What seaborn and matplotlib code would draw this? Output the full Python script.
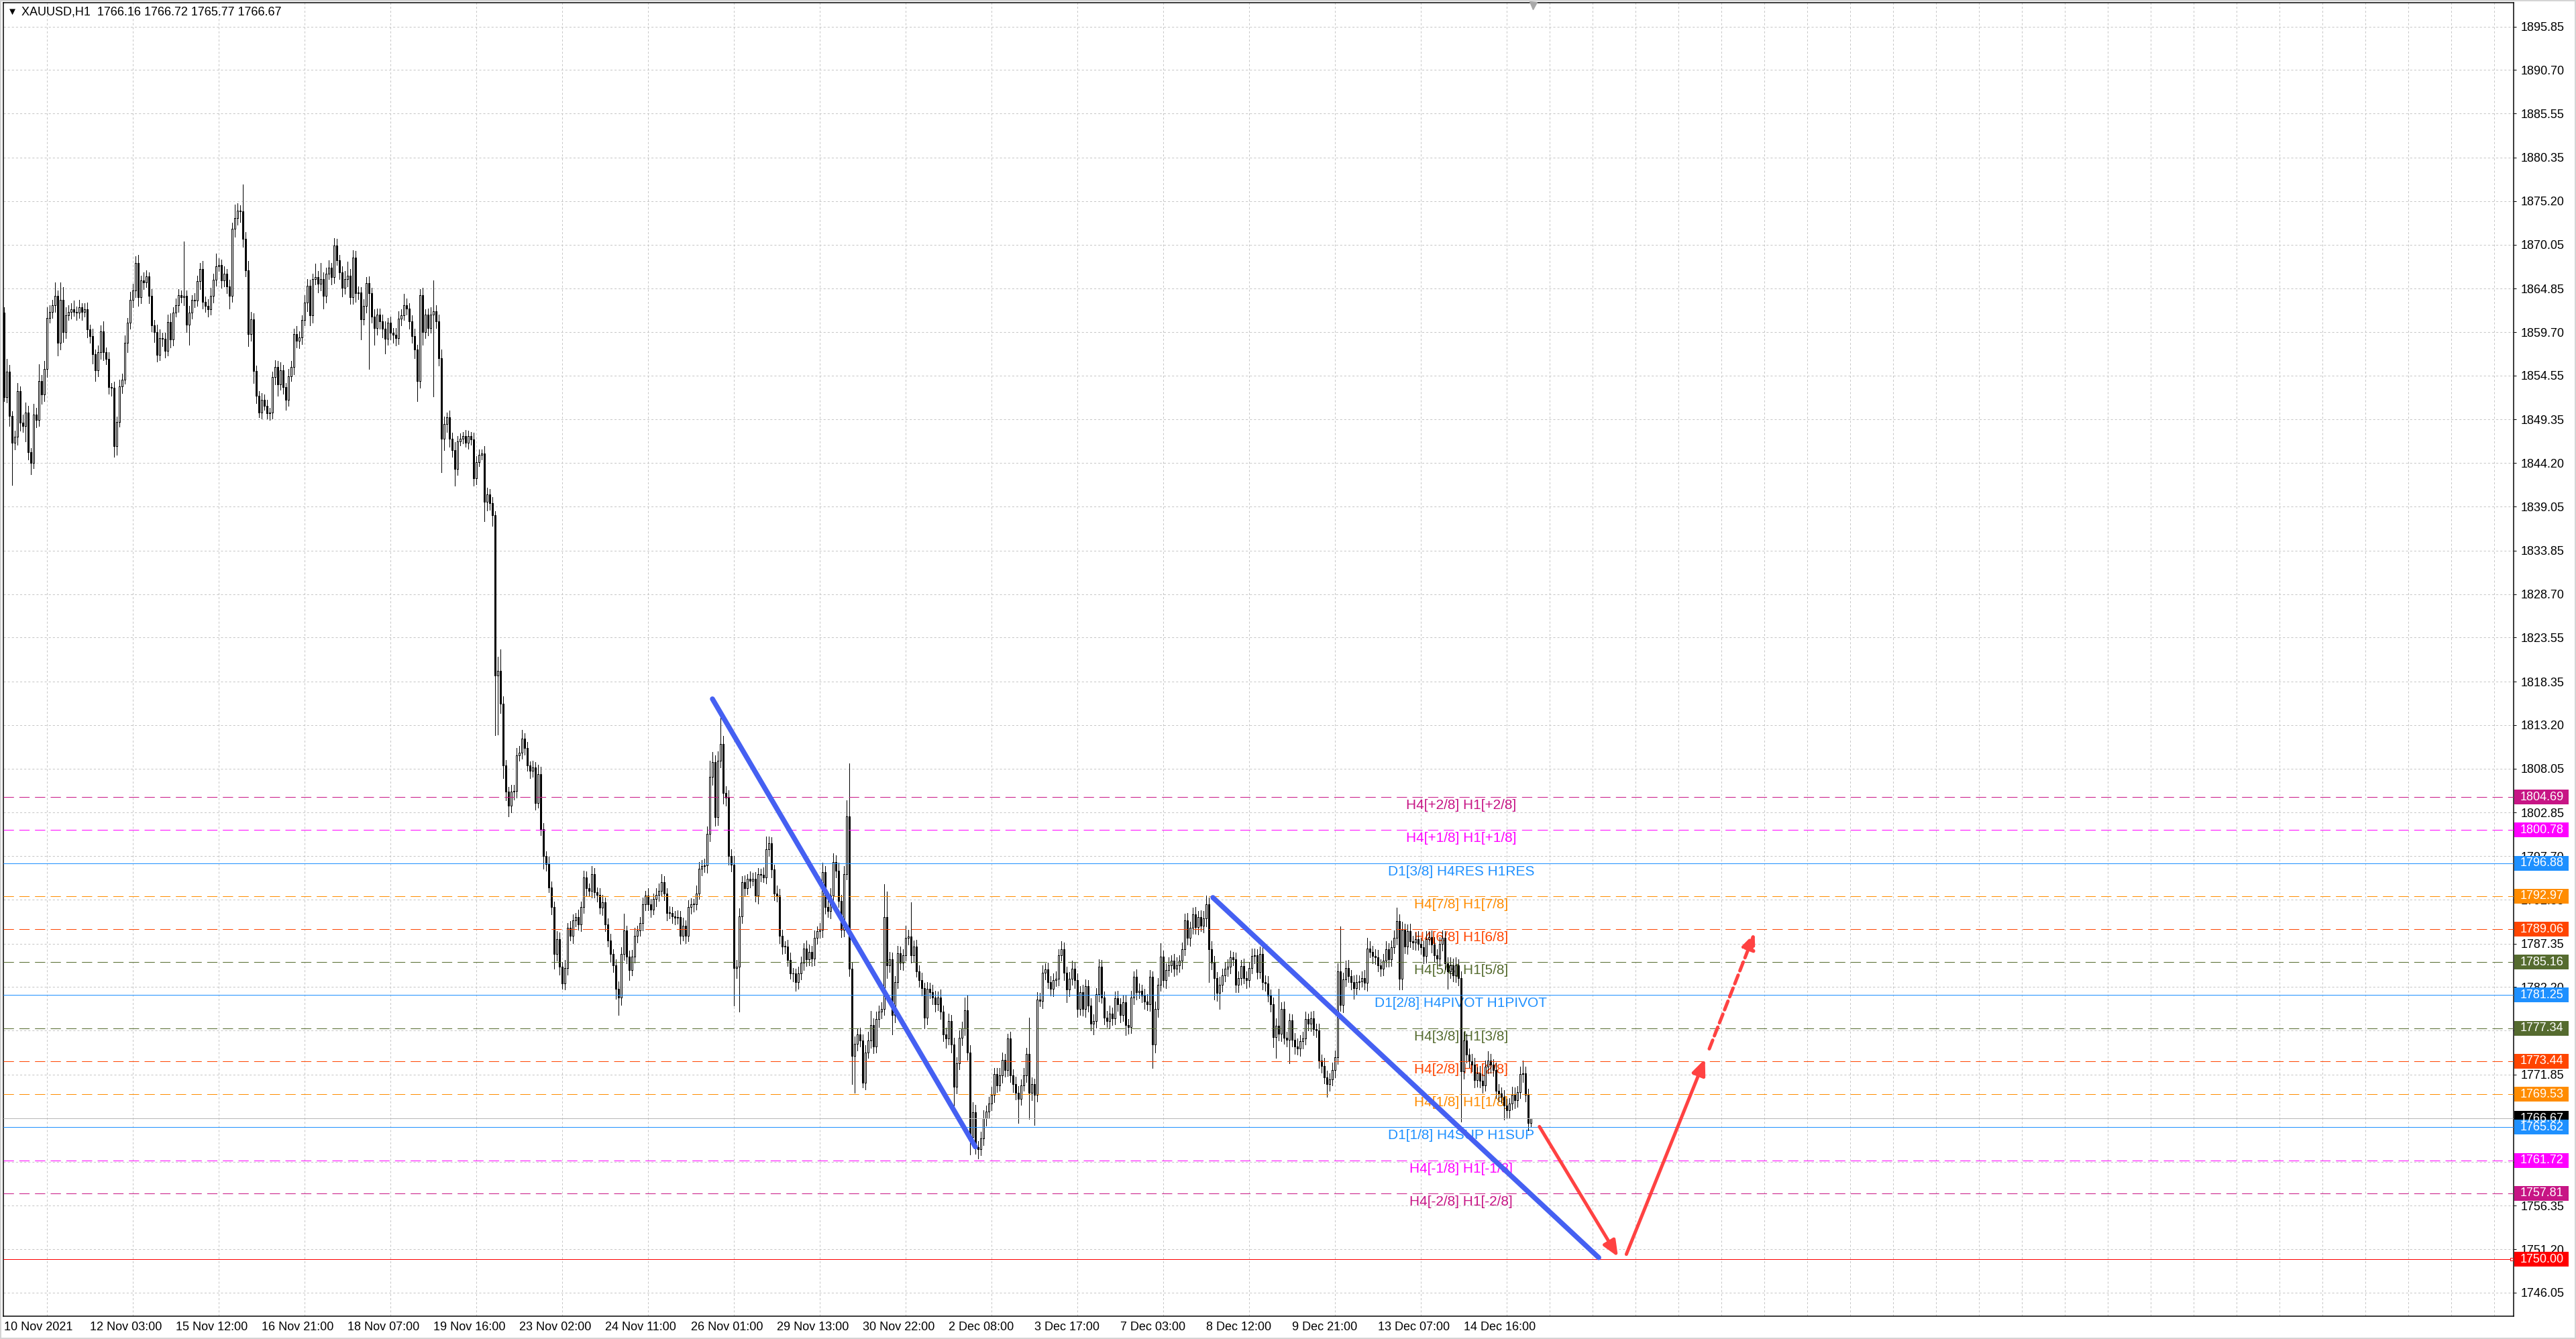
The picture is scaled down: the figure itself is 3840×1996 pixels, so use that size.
import numpy as np
import pandas as pd
import matplotlib
matplotlib.use("Agg")
import matplotlib.pyplot as plt
import matplotlib.transforms as mtransforms
from matplotlib.patches import Rectangle
import seaborn as sns

# ---------------- data ----------------
symbol_line = "XAUUSD,H1  1766.16 1766.72 1765.77 1766.67"
first_open = 1862.0

# hourly closes, one per bar (rows of 10)
closes = [
    1852.0, 1855.0, 1849.8, 1846.6, 1847.3, 1852.7, 1849.0, 1848.6, 1850.2, 1845.5,
    1844.2, 1849.9, 1849.3, 1853.9, 1852.3, 1855.3, 1861.4, 1862.1, 1862.9, 1864.0,
    1858.4, 1863.5, 1859.7, 1861.7, 1862.1, 1862.4, 1862.1, 1862.0, 1862.6, 1862.1,
    1862.4, 1860.0, 1859.2, 1857.1, 1855.2, 1857.3, 1859.8, 1857.3, 1856.5, 1853.2,
    1853.1, 1846.2, 1849.1, 1853.3, 1854.1, 1858.4, 1860.8, 1863.5, 1864.6, 1867.9,
    1863.8, 1865.8, 1865.6, 1866.3, 1864.0, 1860.5, 1859.7, 1857.0, 1859.0, 1858.9,
    1857.5, 1860.9, 1858.8, 1862.0, 1862.9, 1864.1, 1863.8, 1864.0, 1860.6, 1862.0,
    1863.5, 1863.4, 1865.7, 1867.2, 1863.3, 1862.8, 1862.4, 1864.0, 1865.9, 1867.5,
    1867.6, 1865.8, 1866.6, 1865.1, 1864.0, 1871.9, 1873.2, 1874.1, 1874.0, 1870.7,
    1867.0, 1859.5, 1861.2, 1855.1, 1852.2, 1850.2, 1851.7, 1851.0, 1850.1, 1850.2,
    1854.4, 1855.6, 1853.5, 1855.2, 1853.2, 1851.7, 1854.5, 1855.6, 1859.5, 1858.7,
    1859.1, 1861.1, 1863.2, 1865.2, 1861.7, 1866.0, 1866.2, 1865.4, 1866.0, 1864.0,
    1866.6, 1867.3, 1866.2, 1869.9, 1868.2, 1866.8, 1864.9, 1866.0, 1866.4, 1863.8,
    1868.5, 1864.3, 1864.4, 1861.2, 1862.8, 1865.5, 1864.3, 1861.5, 1860.2, 1861.8,
    1861.0, 1860.1, 1858.9, 1860.8, 1859.6, 1859.4, 1859.0, 1861.3, 1861.7, 1862.9,
    1862.5, 1861.0, 1859.2, 1857.6, 1853.9, 1864.1, 1859.7, 1861.8, 1860.2, 1861.8,
    1862.2, 1861.0, 1856.6, 1847.1, 1848.8, 1849.6, 1847.1, 1845.7, 1843.5, 1846.8,
    1847.1, 1847.4, 1846.6, 1847.4, 1847.0, 1842.4, 1844.3, 1845.2, 1845.3, 1839.6,
    1840.5, 1839.5, 1838.0, 1819.1, 1819.6, 1815.7, 1808.4, 1805.3, 1803.7, 1805.3,
    1805.4, 1809.6, 1809.9, 1811.6, 1810.5, 1808.4, 1807.8, 1808.2, 1804.0, 1807.4,
    1800.9, 1797.7, 1796.8, 1794.0, 1791.7, 1786.1, 1787.9, 1784.6, 1782.6, 1784.5,
    1789.2, 1788.3, 1790.1, 1790.5, 1789.6, 1791.7, 1795.2, 1793.9, 1793.6, 1795.6,
    1793.4, 1793.1, 1791.6, 1792.2, 1789.6, 1787.7, 1786.1, 1784.8, 1782.0, 1781.0,
    1786.1, 1788.9, 1785.8, 1784.2, 1785.8, 1788.3, 1788.9, 1789.8, 1792.0, 1793.0,
    1792.0, 1791.4, 1792.6, 1793.1, 1793.6, 1794.6, 1793.3, 1791.0, 1791.0, 1790.6,
    1790.4, 1790.5, 1788.3, 1789.5, 1788.3, 1791.7, 1792.0, 1792.0, 1793.3, 1796.2,
    1796.5, 1796.6, 1800.3, 1807.1, 1808.8, 1802.3, 1809.0, 1811.0, 1805.2, 1804.6,
    1797.7, 1796.7, 1784.5, 1784.6, 1790.6, 1794.6, 1793.9, 1795.0, 1794.8, 1795.0,
    1793.0, 1795.6, 1795.5, 1795.2, 1798.5, 1799.2, 1796.1, 1793.3, 1793.0, 1788.3,
    1787.0, 1787.0, 1785.4, 1783.8, 1783.8, 1782.8, 1783.8, 1785.1, 1786.8, 1785.5,
    1786.4, 1785.6, 1788.0, 1788.8, 1789.0, 1795.8, 1791.7, 1791.2, 1793.0, 1797.0,
    1796.0, 1792.4, 1789.0, 1795.6, 1802.4, 1784.4, 1774.1, 1775.5, 1776.6, 1775.9,
    1770.9, 1774.5, 1775.9, 1777.7, 1775.2, 1778.4, 1779.3, 1779.6, 1790.5, 1784.8,
    1785.5, 1778.9, 1782.8, 1786.2, 1785.1, 1786.0, 1788.0, 1788.2, 1786.0, 1787.0,
    1784.1, 1783.0, 1782.1, 1778.6, 1782.0, 1781.6, 1781.0, 1780.2, 1781.0, 1779.3,
    1776.6, 1776.1, 1778.2, 1775.4, 1770.4, 1773.2, 1776.2, 1777.3, 1779.5, 1774.5,
    1764.5, 1767.4, 1763.3, 1763.0, 1764.3, 1766.7, 1767.5, 1768.4, 1769.5, 1771.9,
    1770.6, 1771.8, 1773.6, 1772.4, 1776.1, 1771.8, 1770.7, 1769.7, 1769.0, 1770.6,
    1771.8, 1774.3, 1769.7, 1770.7, 1769.5, 1780.7, 1780.6, 1783.9, 1784.3, 1782.8,
    1782.0, 1783.0, 1783.2, 1786.0, 1786.7, 1783.9, 1781.9, 1783.2, 1784.4, 1783.0,
    1779.6, 1781.6, 1779.6, 1782.3, 1780.0, 1777.9, 1778.2, 1781.4, 1784.6, 1781.0,
    1778.6, 1778.2, 1779.1, 1778.5, 1780.9, 1780.2, 1778.9, 1780.4, 1777.7, 1777.5,
    1781.0, 1783.4, 1781.6, 1781.8, 1781.2, 1780.5, 1780.2, 1783.4, 1775.4, 1779.6,
    1782.5, 1785.8, 1783.0, 1784.2, 1784.8, 1785.3, 1784.4, 1784.8, 1785.3, 1786.7,
    1790.1, 1788.0, 1789.2, 1790.8, 1789.3, 1790.5, 1789.5, 1790.3, 1792.0, 1786.7,
    1785.1, 1783.3, 1781.5, 1782.5, 1783.6, 1784.4, 1784.6, 1785.7, 1785.5, 1782.5,
    1783.3, 1784.7, 1783.3, 1783.0, 1784.5, 1785.9, 1786.0, 1784.0, 1786.1, 1782.8,
    1782.6, 1781.2, 1780.2, 1776.3, 1777.6, 1776.7, 1779.6, 1776.2, 1776.0, 1778.3,
    1776.0, 1775.2, 1774.9, 1775.8, 1776.1, 1778.4, 1777.9, 1778.5, 1777.2, 1777.1,
    1773.5, 1772.9, 1771.5, 1770.7, 1771.3, 1772.4, 1773.9, 1784.1, 1780.1, 1783.1,
    1784.5, 1783.5, 1782.8, 1782.1, 1782.8, 1782.9, 1783.3, 1782.7, 1786.8, 1786.4,
    1785.9, 1785.7, 1784.8, 1784.4, 1785.3, 1786.7, 1785.5, 1786.9, 1788.0, 1790.0,
    1783.2, 1789.0, 1787.0, 1788.8, 1787.6, 1787.5, 1787.9, 1787.3, 1786.9, 1785.9,
    1787.9, 1788.1, 1787.2, 1786.0, 1785.6, 1787.3, 1788.0, 1785.0, 1784.1, 1784.8,
    1783.6, 1784.8, 1783.3, 1772.2, 1775.9, 1774.2, 1773.4, 1773.0, 1771.2, 1772.0,
    1771.1, 1770.6, 1772.8, 1773.5, 1773.0, 1772.4, 1769.9, 1769.6, 1769.2, 1768.2,
    1767.6, 1768.4, 1769.5, 1768.8, 1769.8, 1771.9, 1772.0, 1769.5, 1766.16, 1766.67,
]

# upper wick above the body, per bar
wick_up = [
    0.6, 1.5, 0.8, 0.5, 0.7, 1.0, 0.6, 0.9, 1.2, 0.8,
    0.5, 1.3, 0.8, 2.0, 0.7, 1.0, 1.2, 0.8, 0.6, 1.6,
    0.6, 2.1, 1.5, 0.9, 0.8, 0.7, 1.0, 0.6, 0.9, 0.5,
    0.7, 0.8, 0.6, 0.9, 0.5, 0.8, 0.7, 1.2, 0.6, 0.8,
    0.5, 0.7, 0.6, 0.8, 0.7, 0.9, 0.6, 1.0, 0.8, 0.8,
    0.9, 0.6, 1.0, 0.7, 0.5, 0.8, 0.6, 0.9, 1.0, 0.6,
    0.7, 0.9, 1.0, 0.6, 0.8, 0.7, 0.5, 6.4, 0.6, 0.8,
    0.6, 0.8, 0.7, 0.7, 0.9, 0.6, 0.8, 0.9, 0.7, 1.5,
    0.8, 0.7, 0.9, 0.6, 0.8, 0.7, 1.6, 0.8, 0.6, 3.2,
    0.8, 1.1, 0.9, 0.7, 0.6, 0.5, 0.8, 0.6, 0.7, 0.5,
    0.6, 0.8, 0.7, 0.9, 0.6, 0.5, 0.8, 0.7, 0.6, 0.9,
    0.7, 0.6, 0.9, 0.8, 0.7, 0.6, 1.6, 0.7, 1.9, 0.8,
    0.7, 0.9, 0.6, 0.9, 0.8, 0.6, 0.7, 0.9, 1.6, 0.8,
    0.9, 0.8, 0.7, 0.6, 0.8, 0.7, 0.8, 0.6, 0.9, 0.7,
    0.7, 0.8, 0.9, 0.6, 0.7, 0.6, 0.8, 0.9, 0.7, 1.3,
    0.8, 0.6, 0.7, 0.9, 0.6, 0.7, 0.8, 0.6, 0.7, 0.8,
    3.6, 0.7, 0.8, 1.0, 0.9, 0.6, 0.8, 0.7, 1.0, 0.6,
    0.6, 0.5, 0.7, 0.6, 0.5, 0.8, 0.7, 0.6, 0.5, 0.9,
    0.8, 0.6, 0.7, 0.5, 1.7, 2.6, 0.9, 0.7, 0.6, 0.8,
    0.7, 0.9, 0.8, 1.0, 0.6, 0.7, 0.5, 0.8, 0.6, 1.1,
    0.9, 0.7, 0.6, 0.8, 0.7, 0.6, 0.9, 0.8, 0.6, 0.9,
    0.6, 0.8, 0.7, 0.5, 0.9, 0.6, 0.8, 0.7, 0.6, 0.9,
    0.7, 0.6, 0.8, 0.9, 0.6, 0.7, 0.8, 0.6, 0.7, 0.9,
    0.8, 2.0, 0.6, 0.7, 0.8, 0.9, 0.6, 0.7, 0.8, 0.6,
    0.9, 0.6, 0.7, 0.8, 0.9, 1.0, 0.7, 0.6, 0.8, 0.7,
    0.6, 0.8, 0.7, 0.9, 0.6, 0.8, 0.7, 0.6, 0.9, 0.8,
    0.7, 0.8, 0.9, 1.9, 1.2, 0.8, 1.1, 3.7, 0.9, 0.8,
    0.9, 0.8, 1.0, 0.8, 0.9, 0.7, 0.8, 0.6, 0.9, 0.7,
    0.8, 0.7, 0.6, 0.9, 1.5, 0.8, 0.7, 0.6, 0.9, 0.8,
    0.7, 0.6, 0.8, 0.9, 0.7, 0.6, 0.8, 0.7, 0.6, 0.9,
    0.8, 0.7, 0.9, 0.6, 0.8, 1.1, 0.7, 0.8, 0.9, 1.0,
    0.8, 0.9, 0.7, 0.9, 1.9, 6.3, 0.8, 0.9, 0.7, 0.8,
    0.7, 0.8, 1.0, 1.7, 0.8, 0.9, 0.7, 0.8, 3.9, 3.0,
    0.9, 0.8, 0.7, 0.9, 0.8, 0.7, 1.5, 0.8, 4.0, 0.7,
    0.8, 0.7, 0.9, 0.6, 0.8, 0.7, 0.9, 0.8, 0.7, 0.9,
    0.7, 0.8, 0.9, 0.7, 0.8, 0.7, 0.9, 0.8, 1.5, 1.7,
    0.8, 1.2, 0.9, 0.7, 0.8, 0.9, 0.7, 0.8, 0.9, 0.7,
    0.7, 0.8, 0.9, 0.7, 0.6, 0.8, 0.7, 0.9, 0.8, 0.7,
    0.8, 0.7, 4.3, 0.8, 0.7, 0.9, 0.8, 0.9, 0.7, 0.8,
    0.7, 0.8, 0.9, 0.7, 0.9, 0.8, 0.7, 0.8, 0.9, 0.7,
    0.8, 0.7, 0.9, 0.8, 0.7, 0.9, 0.8, 0.7, 0.9, 0.8,
    0.7, 0.8, 0.9, 0.7, 0.8, 0.9, 0.7, 0.8, 0.9, 0.7,
    0.8, 0.7, 0.9, 0.8, 0.7, 0.8, 0.9, 0.8, 0.7, 0.9,
    0.8, 1.6, 0.7, 0.8, 0.9, 0.7, 0.8, 0.9, 0.7, 0.8,
    0.8, 0.9, 0.7, 0.8, 0.9, 0.7, 0.8, 0.9, 1.0, 0.8,
    0.9, 0.8, 0.7, 0.9, 0.8, 0.7, 0.9, 0.8, 0.7, 0.8,
    0.8, 0.7, 0.9, 0.8, 0.7, 0.9, 0.8, 0.7, 0.9, 0.8,
    0.8, 0.9, 0.7, 0.8, 0.9, 4.4, 0.8, 0.9, 0.7, 0.8,
    0.7, 0.8, 0.9, 0.7, 0.8, 0.9, 0.7, 0.8, 0.9, 0.7,
    0.8, 0.7, 0.9, 0.8, 0.7, 0.9, 0.8, 0.9, 5.3, 0.8,
    0.8, 0.9, 0.7, 0.8, 0.9, 0.7, 0.8, 0.9, 1.2, 0.8,
    0.7, 0.8, 0.9, 0.7, 0.8, 0.9, 0.7, 0.8, 0.9, 1.6,
    0.8, 0.9, 0.7, 0.8, 0.9, 0.7, 0.8, 0.9, 0.7, 0.8,
    0.9, 0.7, 0.8, 0.9, 0.7, 0.8, 0.9, 0.8, 0.7, 0.9,
    0.8, 0.9, 0.7, 0.8, 1.0, 0.8, 0.7, 0.9, 0.8, 0.7,
    0.9, 0.8, 0.7, 1.1, 0.8, 0.7, 0.9, 0.8, 0.7, 0.8,
    0.8, 0.7, 0.9, 0.8, 0.7, 0.9, 1.5, 0.8, 0.7, 0.05,
]

# lower wick below the body, per bar
wick_dn = [
    0.5, 0.6, 1.2, 5.0, 0.8, 0.9, 1.0, 0.7, 1.8, 0.9,
    1.3, 0.6, 0.9, 0.7, 1.1, 0.8, 0.9, 0.6, 0.7, 0.8,
    1.5, 0.8, 1.2, 0.7, 0.6, 0.8, 0.5, 0.9, 0.6, 1.0,
    0.6, 0.9, 0.8, 1.1, 1.3, 0.7, 0.8, 0.9, 0.6, 0.8,
    0.9, 1.3, 1.0, 0.6, 0.8, 0.5, 1.1, 0.7, 0.9, 0.8,
    1.0, 0.7, 0.8, 0.6, 0.9, 0.7, 1.2, 0.8, 0.6, 0.9,
    0.8, 0.6, 0.9, 0.7, 0.5, 0.8, 0.6, 0.9, 0.9, 2.4,
    0.7, 0.8, 0.6, 0.9, 0.8, 0.7, 0.9, 0.6, 0.8, 0.7,
    0.6, 0.9, 0.7, 0.8, 1.5, 0.7, 0.9, 0.8, 1.3, 0.9,
    0.7, 1.5, 0.8, 1.4, 0.9, 0.6, 0.7, 0.5, 0.6, 0.8,
    0.7, 0.9, 1.3, 0.6, 0.8, 1.2, 0.7, 0.6, 0.9, 0.8,
    0.9, 0.8, 0.6, 1.0, 1.2, 0.9, 0.7, 1.0, 0.8, 1.5,
    0.8, 0.6, 0.9, 0.7, 0.6, 0.8, 1.0, 0.7, 0.9, 0.8,
    0.8, 1.0, 0.7, 2.4, 0.6, 0.8, 9.0, 0.7, 2.0, 0.8,
    0.9, 1.0, 1.7, 0.7, 0.8, 1.0, 0.9, 0.7, 0.8, 0.6,
    0.7, 0.9, 0.8, 1.0, 2.4, 0.8, 1.5, 0.7, 0.9, 0.6,
    9.7, 0.8, 0.9, 4.0, 1.4, 0.9, 1.0, 0.8, 2.0, 0.7,
    0.5, 0.6, 0.5, 0.7, 0.6, 0.9, 0.7, 0.5, 0.6, 2.3,
    1.0, 0.8, 1.2, 7.1, 7.0, 1.1, 1.5, 1.0, 1.3, 0.8,
    0.9, 0.8, 0.6, 0.7, 0.8, 0.6, 0.9, 0.7, 0.8, 0.6,
    0.7, 1.5, 0.8, 0.6, 0.9, 1.7, 0.8, 0.9, 0.6, 0.7,
    0.8, 0.6, 0.9, 0.7, 0.6, 0.8, 0.7, 0.9, 0.6, 0.8,
    0.6, 0.8, 0.7, 0.9, 0.8, 0.7, 0.9, 0.8, 1.2, 2.1,
    0.9, 0.7, 0.8, 1.2, 0.6, 0.7, 0.8, 0.6, 0.9, 0.7,
    0.7, 0.9, 0.6, 0.8, 0.7, 0.6, 0.8, 0.9, 0.7, 0.8,
    0.8, 0.7, 1.0, 0.6, 0.9, 0.7, 0.8, 0.9, 0.6, 0.7,
    0.8, 0.7, 0.9, 0.8, 1.0, 1.0, 0.9, 0.8, 1.3, 0.9,
    1.0, 0.8, 4.5, 1.2, 5.3, 0.8, 0.9, 0.7, 0.8, 0.6,
    0.7, 0.9, 0.8, 0.6, 0.7, 0.8, 0.9, 0.8, 0.7, 0.9,
    0.9, 0.8, 0.7, 0.6, 0.9, 1.0, 0.8, 0.7, 0.9, 0.8,
    0.7, 0.9, 0.8, 0.7, 0.8, 0.9, 0.8, 0.7, 0.9, 0.6,
    0.8, 0.7, 0.9, 0.8, 0.7, 0.9, 3.4, 4.4, 0.8, 0.7,
    0.6, 0.8, 0.7, 0.9, 0.8, 0.7, 0.9, 0.8, 0.7, 1.5,
    0.8, 2.3, 0.9, 0.7, 0.8, 0.9, 0.7, 0.8, 0.9, 0.8,
    0.7, 0.8, 0.9, 1.3, 0.8, 0.7, 0.8, 0.9, 0.7, 0.9,
    0.8, 1.1, 0.7, 0.9, 2.3, 0.8, 0.7, 0.9, 0.8, 0.9,
    2.1, 0.9, 0.8, 1.1, 0.7, 0.8, 0.9, 0.7, 0.8, 0.9,
    0.8, 0.7, 0.9, 0.8, 0.7, 0.8, 0.9, 0.8, 2.9, 0.7,
    0.7, 0.8, 3.1, 0.9, 3.6, 0.8, 0.7, 0.9, 0.8, 0.7,
    0.8, 0.9, 0.7, 0.8, 0.7, 0.9, 1.5, 0.8, 0.7, 0.9,
    0.9, 0.7, 0.8, 0.9, 0.7, 0.8, 1.3, 0.8, 0.9, 0.7,
    0.8, 0.7, 0.9, 0.8, 0.7, 0.8, 0.9, 0.7, 1.2, 0.8,
    0.7, 0.8, 0.9, 0.7, 0.8, 0.9, 0.7, 0.8, 2.8, 0.9,
    0.9, 0.7, 0.8, 0.9, 0.7, 0.8, 0.9, 0.7, 0.8, 0.9,
    0.7, 0.8, 0.9, 0.7, 0.8, 0.9, 0.7, 0.8, 0.9, 3.9,
    0.8, 2.6, 0.9, 1.9, 0.8, 0.7, 0.9, 0.8, 0.7, 0.9,
    0.9, 0.8, 0.7, 0.9, 0.8, 0.7, 0.9, 0.8, 0.7, 0.9,
    0.8, 0.7, 0.9, 1.2, 2.5, 0.8, 0.9, 0.7, 0.8, 2.8,
    0.8, 0.9, 0.7, 0.8, 0.9, 0.7, 0.8, 0.9, 0.7, 0.8,
    0.9, 0.8, 0.7, 1.5, 0.8, 0.7, 0.9, 0.8, 0.7, 0.9,
    0.8, 0.7, 0.9, 1.3, 0.8, 0.9, 0.7, 0.8, 0.9, 0.7,
    0.9, 0.8, 0.7, 0.9, 0.8, 0.7, 0.9, 0.8, 0.7, 0.8,
    1.3, 1.3, 0.8, 0.9, 0.7, 0.8, 0.9, 0.7, 0.8, 0.9,
    0.8, 0.7, 0.9, 0.8, 0.7, 0.9, 0.8, 0.7, 2.1, 0.8,
    0.7, 0.8, 0.9, 5.9, 0.8, 0.9, 0.7, 0.8, 0.9, 0.8,
    0.8, 0.9, 0.7, 0.8, 0.9, 0.7, 0.8, 0.9, 0.7, 1.7,
    0.9, 0.8, 0.7, 0.9, 0.8, 0.7, 0.9, 0.8, 0.9, 0.39,
]

date_labels = [
    "10 Nov 2021", "12 Nov 03:00", "15 Nov 12:00", "16 Nov 21:00", "18 Nov 07:00",
    "19 Nov 16:00", "23 Nov 02:00", "24 Nov 11:00", "26 Nov 01:00", "29 Nov 13:00",
    "30 Nov 22:00", "2 Dec 08:00", "3 Dec 17:00", "7 Dec 03:00", "8 Dec 12:00",
    "9 Dec 21:00", "13 Dec 07:00", "14 Dec 16:00",
]
bars_per_label = 32

price_ticks = [
    1895.85, 1890.70, 1885.55, 1880.35, 1875.20, 1870.05, 1864.85, 1859.70, 1854.55, 1849.35,
    1844.20, 1839.05, 1833.85, 1828.70, 1823.55, 1818.35, 1813.20, 1808.05, 1802.85, 1797.70,
    1792.55, 1787.35, 1782.20, 1777.05, 1771.85, 1766.70, 1761.55, 1756.35, 1751.20, 1746.05,
]

levels = [1804.69, 1800.78, 1796.88, 1792.97, 1789.06, 1785.16, 1781.25,
          1777.34, 1773.44, 1769.53, 1765.62, 1761.72, 1757.81]
level_text = [
    "H4[+2/8] H1[+2/8]", "H4[+1/8] H1[+1/8]", "D1[3/8] H4RES H1RES",
    "H4[7/8] H1[7/8]", "H4[6/8] H1[6/8]", "H4[5/8] H1[5/8]",
    "D1[2/8] H4PIVOT H1PIVOT", "H4[3/8] H1[3/8]", "H4[2/8] H1[2/8]",
    "H4[1/8] H1[1/8]", "D1[1/8] H4SUP H1SUP", "H4[-1/8] H1[-1/8]",
    "H4[-2/8] H1[-2/8]",
]
level_colors = ["#c71585", "#ff00ff", "#1e90ff", "#ff8c00", "#ff4500", "#556b2f", "#1e90ff",
                "#556b2f", "#ff4500", "#ff8c00", "#1e90ff", "#ff00ff", "#c71585"]
current_price = 1766.67
target_price = 1750.00

# drawn objects: (bar, price) end points
trend1_x, trend1_y = [264, 362], [1816.3, 1763.3]
trend2_x, trend2_y = [450.5, 594.3], [1792.8, 1750.2]
arrow1_x, arrow1_y = [572.2, 601.5], [1765.7, 1750.3]
arrow2_x, arrow2_y = [604.6, 633.9], [1750.6, 1773.7]
arrow3_x, arrow3_y = [635.5, 652.4], [1774.9, 1788.6]

# ---------------- layout ----------------
W, H, DPI = 3840, 1996, 100
PX = 72 / DPI  # one pixel in points
BLUE = "#4560f2"
RED = "#ff4242"

sns.set_theme(style="white")
plt.rcParams["font.family"] = ["Liberation Sans", "DejaVu Sans"]
plt.rcParams["lines.scale_dashes"] = False
plt.rcParams["axes.unicode_minus"] = False

fig = plt.figure(figsize=(W / DPI, H / DPI), dpi=DPI, facecolor="white")
ax = fig.add_axes([5 / W, 34 / H, 3742 / W, 1958 / H])
ax.set_facecolor("white")

n = min(len(closes), len(wick_up), len(wick_dn))
df = pd.DataFrame({"close": closes[:n], "up": wick_up[:n], "dn": wick_dn[:n]})
df["open"] = df["close"].shift(1).fillna(first_open)
df["top"] = df[["open", "close"]].max(axis=1)
df["bot"] = df[["open", "close"]].min(axis=1)
df["high"] = df["top"] + df["up"]
df["low"] = df["bot"] - df["dn"]
df["bull"] = df["close"] >= df["open"]
xb = np.arange(n)

ax.set_xlim(-0.25, 935.25)
ax.set_ylim(1743.27, 1898.67)

# grid
grid_kw = dict(color="#c6c6c6", lw=PX, ls=(0, (2.2, 2.2)))
ax.set_axisbelow(True)
ax.set_yticks(price_ticks)
ax.set_yticklabels([f"{p:.2f}" for p in price_ticks])
ax.yaxis.grid(True, **grid_kw)
ax.set_xticks(np.arange(0, 936, 16), minor=True)
ax.set_xticks(np.arange(len(date_labels)) * bars_per_label)
ax.set_xticklabels(date_labels)
for lbl in ax.get_xticklabels():
    lbl.set_ha("left")
ax.xaxis.grid(True, which="minor", **grid_kw)
ax.xaxis.grid(False, which="major")
ax.tick_params(axis="x", which="minor", length=0)
ax.tick_params(axis="x", which="major", length=5 * PX, width=PX, direction="out",
               pad=2.5, labelsize=13, colors="black")
ax.yaxis.tick_right()
ax.tick_params(axis="y", length=4 * PX, width=PX, direction="out", pad=4.5,
               labelsize=13, colors="black")
for s in ax.spines.values():
    s.set_visible(True)
    s.set_color("black")
    s.set_linewidth(1.5 * PX)

# level labels sit under the candles, the level lines over them
txt_tr = mtransforms.offset_copy(ax.transData, fig=fig, y=-3, units="dots")
for price, text, color in zip(levels, level_text, level_colors):
    solid = color == "#1e90ff"
    ax.axhline(price, color=color, lw=PX, ls="-" if solid else (0, (11, 5.8)), zorder=4.5)
    ax.text(543, price, text, color=color, fontsize=15, ha="center", va="top",
            transform=txt_tr, zorder=1.5)
ax.axhline(current_price, color="#b8b8b8", lw=PX, zorder=4.5)
ax.axhline(target_price, color="#ff0000", lw=PX, zorder=4.5)

# candles
ax.vlines(xb, df["low"], df["high"], color="black", lw=PX, zorder=3, antialiased=False)
ax.bar(xb, (df["top"] - df["bot"]).clip(lower=0.06), bottom=df["bot"], width=0.5,
       color=np.where(df["bull"], "white", "black"), edgecolor="black",
       linewidth=PX, zorder=4, antialiased=False)

# trend lines
for tx, ty in [(trend1_x, trend1_y), (trend2_x, trend2_y)]:
    sns.lineplot(x=tx, y=ty, ax=ax, color=BLUE, lw=7.5 * PX, sort=False,
                 estimator=None, legend=False, solid_capstyle="round", zorder=5)

# red arrows
for axx, ayy, dashed in [(arrow1_x, arrow1_y, False), (arrow2_x, arrow2_y, False),
                         (arrow3_x, arrow3_y, True)]:
    ax.annotate("", xy=(axx[1], ayy[1]), xytext=(axx[0], ayy[0]), zorder=6,
                arrowprops=dict(arrowstyle="-|>,head_length=0.7,head_width=0.3",
                                mutation_scale=20, color=RED, lw=5 * PX,
                                shrinkA=0, shrinkB=0,
                                ls=(0, (10, 5)) if dashed else "-"))

# price tags on the right
tag_tr = mtransforms.blended_transform_factory(ax.transAxes, ax.transData)
ax_w = 3742
tag_h = 22 / 12.6
tags = [(current_price, "black")] + list(zip(levels, level_colors)) + [(target_price, "#ff0000")]
for price, color in tags:
    ax.add_patch(Rectangle((1 + 1 / ax_w, price - tag_h / 2), 81 / ax_w, tag_h,
                           transform=tag_tr, facecolor=color, edgecolor="none",
                           clip_on=False, zorder=20))
    ax.text(1 + 10 / ax_w, price, f"{price:.2f}", transform=tag_tr, color="white",
            fontsize=13, va="center", ha="left", clip_on=False, zorder=21)
ax.plot([1 - 3 / ax_w], [target_price], transform=tag_tr, marker="s", ms=5 * PX,
        mfc="white", mec="#ff0000", mew=PX, clip_on=False, zorder=8)

# chart shift marker
ax.plot([n - 0.25], [1898.67], marker="v", ms=11 * PX, color="#a8a8a8",
        transform=mtransforms.offset_copy(ax.transData, fig=fig, y=-4, units="dots"),
        clip_on=False, zorder=9)

# header
fig.text(11 / W, 1 - 18 / H, "\u25bc", fontsize=11, va="center", ha="left", color="black")
fig.text(32 / W, 1 - 18 / H, symbol_line, fontsize=13, va="center", ha="left", color="black")

fig.patches.append(Rectangle((0, 0), 1, 1, transform=fig.transFigure, fill=False,
                             edgecolor="#d4d4d4", lw=4 * PX))

fig.savefig("out.png", dpi=DPI, facecolor="white")
